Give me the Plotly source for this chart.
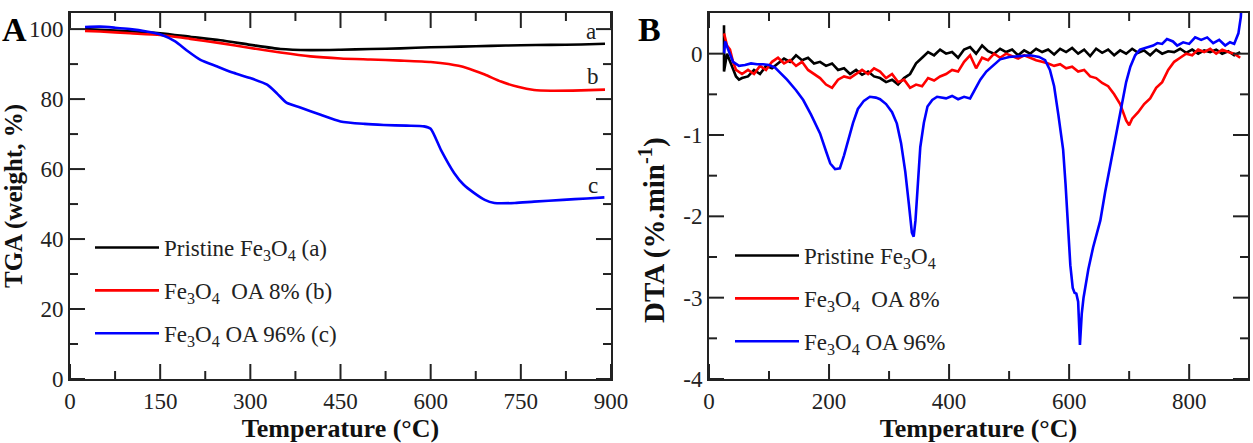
import plotly.graph_objects as go
from plotly.subplots import make_subplots

# ---------------- Panel A : TGA ----------------
tga_a_T = [25, 50, 100, 150, 200, 250, 300, 350, 400, 450, 500, 550, 600, 650, 700, 750, 800, 850, 890]
tga_a_y = [100.0, 99.8, 99.4, 98.8, 97.8, 96.8, 95.5, 94.3, 94.0, 94.1, 94.3, 94.5, 94.8, 95.0, 95.2, 95.4, 95.5, 95.6, 95.8]

tga_b_T = [25, 50, 100, 150, 200, 250, 300, 350, 400, 450, 500, 550, 600, 630, 660, 690, 717, 745, 772, 800, 850, 890]
tga_b_y = [99.5, 99.3, 98.8, 98.3, 97.2, 96.0, 94.6, 93.3, 92.2, 91.6, 91.3, 91.0, 90.6, 90.0, 88.9, 87.0, 85.0, 83.5, 82.6, 82.4, 82.5, 82.7]

tga_c_T = [25, 50, 75, 100, 125, 152, 175, 195, 217, 245, 272, 300, 328, 345, 360, 383, 417, 450, 490, 522, 560, 589,
           600, 617, 639, 655, 672, 690, 706, 740, 772, 820, 860, 889]
tga_c_y = [100.6, 100.7, 100.4, 100.0, 99.4, 98.4, 96.5, 93.8, 91.2, 89.3, 87.5, 86.0, 84.1, 81.5, 79.0, 77.6, 75.5, 73.6,
           72.9, 72.6, 72.4, 72.2, 71.5, 65.5, 58.9, 55.5, 53.2, 51.2, 50.3, 50.3, 50.7, 51.2, 51.6, 51.9]

tga_names = ["Pristine Fe<sub>3</sub>O<sub>4</sub> (a)",
             "Fe<sub>3</sub>O<sub>4</sub>&nbsp; OA 8% (b)",
             "Fe<sub>3</sub>O<sub>4</sub> OA 96% (c)"]
curve_labels = ["a", "b", "c"]
label_T = [866, 870, 870]
label_y = [99.3, 86.4, 55.4]

tga_x_range = [0, 900]
tga_y_range = [0, 104.6]
tga_x_major = [0, 150, 300, 450, 600, 750, 900]
tga_x_minor = [75, 225, 375, 525, 675, 825]
tga_y_major = [0, 20, 40, 60, 80, 100]
tga_y_minor = [10, 30, 50, 70, 90]

# ---------------- Panel B : DTA ----------------
dta_a_T = [25, 25, 30, 35, 40, 45, 50, 55, 65, 75, 85, 95, 105, 115, 125, 135, 145, 155, 165, 175, 185, 195, 205, 215,
           225, 235, 245, 255, 265, 275, 285, 295, 305, 315, 325, 335, 345, 355, 365, 375, 385, 395, 405, 415, 425,
           435, 445, 455, 465, 475, 485, 495, 505, 515, 525, 535, 545, 555, 565, 575, 585, 595, 605, 615, 625, 635,
           645, 655, 665, 675, 685, 695, 705, 715, 725, 735, 745, 755, 765, 775, 785, 795, 805, 815, 825, 835, 845,
           855, 865, 875, 885]
dta_a_y = [0.35, -0.22, 0.0, -0.1, -0.2, -0.28, -0.32, -0.3, -0.28, -0.2, -0.25, -0.15, -0.18, -0.12, -0.06, -0.1,
           -0.02, -0.08, -0.05, -0.12, -0.1, -0.15, -0.12, -0.2, -0.18, -0.25, -0.2, -0.26, -0.22, -0.28, -0.3, -0.35,
           -0.32, -0.38, -0.3, -0.25, -0.12, -0.05, 0.02, -0.02, 0.05, 0.0, 0.02, -0.05, 0.05, 0.08, 0.0, 0.1, 0.03,
           0.0, 0.06, 0.02, 0.05, -0.02, 0.04, 0.0, 0.06, 0.02, 0.05, -0.01, 0.06, 0.02, 0.07, 0.0, 0.05, -0.03, 0.06,
           0.01, 0.05, -0.02, 0.04, 0.0, 0.06, 0.01, 0.04, -0.02, 0.05, 0.0, 0.03, 0.02, 0.06, 0.01, 0.05, 0.0, 0.04,
           0.02, 0.05, 0.0, 0.03, -0.02, 0.02]

dta_b_T = [25, 30, 35, 40, 45, 50, 55, 65, 75, 85, 95, 105, 115, 125, 135, 145, 155, 165, 175, 185, 195, 205, 215, 225,
           235, 245, 255, 265, 275, 285, 295, 305, 315, 325, 335, 345, 355, 365, 375, 385, 395, 405, 415, 425, 435,
           445, 455, 465, 475, 485, 495, 505, 515, 525, 535, 545, 555, 565, 575, 585, 595, 605, 615, 625, 635, 645,
           655, 665, 675, 685, 695, 700, 705, 715, 725, 735, 745, 755, 765, 775, 785, 795, 805, 815, 825, 835, 845,
           855, 865, 875, 885]
dta_b_y = [0.25, 0.1, 0.05, -0.1, -0.2, -0.22, -0.25, -0.2, -0.25, -0.15, -0.2, -0.1, -0.05, -0.12, -0.08, -0.15,
           -0.1, -0.2, -0.25, -0.3, -0.38, -0.42, -0.32, -0.28, -0.3, -0.25, -0.2, -0.25, -0.18, -0.22, -0.3, -0.25,
           -0.35, -0.32, -0.42, -0.38, -0.4, -0.3, -0.33, -0.28, -0.25, -0.2, -0.22, -0.1, -0.02, -0.18, -0.05, -0.08,
           0.0, -0.05, 0.0, -0.03, -0.06, -0.02, -0.05, -0.08, -0.1, -0.12, -0.15, -0.13, -0.18, -0.16, -0.22, -0.2,
           -0.28, -0.3, -0.36, -0.4, -0.5, -0.62, -0.82, -0.88, -0.8, -0.72, -0.62, -0.55, -0.42, -0.35, -0.2, -0.1,
           -0.05, 0.0, -0.02, 0.05, 0.02, 0.06, 0.0, 0.05, 0.02, 0.0, -0.05]

dta_c_T = [25, 27, 32, 40, 50, 60, 70, 80, 90, 100, 110, 120, 130, 145, 157, 170, 185, 195, 202, 210, 218, 225, 232,
           240, 248, 258, 268, 278, 285, 295, 305, 313, 320, 327, 333, 338, 341, 344, 348, 352, 358, 364, 372, 380,
           395, 405, 415, 425, 435, 443, 452, 462, 472, 485, 500, 515, 535, 550, 560, 568, 575, 582, 590, 594, 598,
           602, 606, 609, 612, 615, 618, 621, 624, 632, 640, 652, 660, 668, 677, 685, 695, 702, 710, 718, 730, 740,
           747, 755, 763, 773, 780, 790, 800, 810, 820, 830, 840, 850, 860, 868, 875, 882, 886, 888]
dta_c_y = [0.0, 0.15, 0.05, -0.1, -0.15, -0.14, -0.12, -0.13, -0.13, -0.14, -0.17, -0.24, -0.32, -0.45, -0.57, -0.75,
           -0.98, -1.2, -1.35, -1.42, -1.41, -1.25, -1.05, -0.85, -0.68, -0.58, -0.53, -0.54, -0.56, -0.62, -0.72,
           -0.86, -1.1, -1.45, -1.85, -2.2, -2.25, -2.05, -1.6, -1.15, -0.85, -0.65, -0.57, -0.53, -0.55, -0.52,
           -0.56, -0.53, -0.55, -0.45, -0.32, -0.22, -0.15, -0.07, -0.04, -0.03, -0.02, -0.04, -0.08, -0.2, -0.4,
           -0.75, -1.18, -1.6, -2.15, -2.6, -2.88, -2.94, -2.95, -3.05, -3.58, -3.2, -3.0, -2.65, -2.38, -2.05, -1.7,
           -1.39, -1.0, -0.69, -0.35, -0.16, -0.02, 0.05, 0.08, 0.1, 0.13, 0.12, 0.18, 0.15, 0.1, 0.14, 0.12, 0.2,
           0.17, 0.2, 0.13, 0.17, 0.1, 0.14, 0.12, 0.25, 0.45, 0.7]

dta_names = ["Pristine Fe<sub>3</sub>O<sub>4</sub>",
             "Fe<sub>3</sub>O<sub>4</sub>&nbsp; OA 8%",
             "Fe<sub>3</sub>O<sub>4</sub> OA 96%"]

dta_x_range = [0, 898]
dta_y_range = [-4, 0.5]
dta_x_major = [0, 200, 400, 600, 800]
dta_x_minor = [100, 300, 500, 700]
dta_y_major = [-4, -3, -2, -1, 0]
dta_y_labels = ["-4", "-3", "-2", "-1", "0"]
dta_y_minor = [-3.5, -2.5, -1.5, -0.5]

colors = ["#000000", "#ff0000", "#0000ff"]

FONT = "Liberation Serif"
AXC = "#222222"
W, H = 1253, 443
dom_A = [70 / W, 611 / W]
dom_B = [709 / W, 1248 / W]
dom_y = [1 - 379 / H, 1 - 13 / H]

fig = make_subplots(rows=1, cols=2, horizontal_spacing=0.05)

tga_T = [tga_a_T, tga_b_T, tga_c_T]
tga_y = [tga_a_y, tga_b_y, tga_c_y]
for i in range(3):
    fig.add_trace(go.Scatter(x=tga_T[i], y=tga_y[i], mode="lines", name=tga_names[i],
                             line=dict(color=colors[i], width=2.6, shape="spline", smoothing=0.6),
                             legend="legend", legendgroup="A%d" % i), row=1, col=1)

dta_T = [dta_a_T, dta_b_T, dta_c_T]
dta_y = [dta_a_y, dta_b_y, dta_c_y]
for i in range(3):
    fig.add_trace(go.Scatter(x=dta_T[i], y=dta_y[i], mode="lines", name=dta_names[i],
                             line=dict(color=colors[i], width=2.6),
                             legend="legend2", legendgroup="B%d" % i), row=1, col=2)


# inward tick marks on all four sides, built from the tick value lists
def tick_trace(xr, yr, xdom, ydom, xmaj, xmin, ymaj, ymin, row, col):
    px_per_x = (xdom[1] - xdom[0]) * W / (xr[1] - xr[0])
    px_per_y = (ydom[1] - ydom[0]) * H / (yr[1] - yr[0])
    xs, ys = [], []
    for vals, L in ((xmaj, 15), (xmin, 8)):
        d = L / px_per_y
        for v in vals:
            xs += [v, v, None, v, v, None]
            ys += [yr[0], yr[0] + d, None, yr[1], yr[1] - d, None]
    for vals, L in ((ymaj, 15), (ymin, 8)):
        d = L / px_per_x
        for v in vals:
            xs += [xr[0], xr[0] + d, None, xr[1], xr[1] - d, None]
            ys += [v, v, None, v, v, None]
    fig.add_trace(go.Scatter(x=xs, y=ys, mode="lines", line=dict(color=AXC, width=2),
                             showlegend=False, hoverinfo="skip", connectgaps=False, cliponaxis=False),
                  row=row, col=col)


tick_trace(tga_x_range, tga_y_range, dom_A, dom_y, tga_x_major, tga_x_minor, tga_y_major, tga_y_minor, 1, 1)
tick_trace(dta_x_range, dta_y_range, dom_B, dom_y, dta_x_major, dta_x_minor, dta_y_major, dta_y_minor, 1, 2)


def style_axis(update, row, col, rng, vals, dom, title, texts=None, tsize=26):
    kw = dict(showline=True, linecolor=AXC, linewidth=2, mirror=True, ticks="",
              showgrid=False, zeroline=False,
              automargin=False, range=rng, tickmode="array", tickvals=vals, domain=dom,
              tickfont=dict(family=FONT, size=23, color="#222"),
              title=dict(text=title, standoff=2, font=dict(family=FONT, size=tsize, color="#111")))
    if texts is not None:
        kw["ticktext"] = texts
    update(row=row, col=col, **kw)


style_axis(fig.update_xaxes, 1, 1, tga_x_range, tga_x_major, dom_A, "<b>Temperature (°C)</b>")
style_axis(fig.update_yaxes, 1, 1, tga_y_range, tga_y_major, dom_y, "<b>TGA (weight, %)</b>", tsize=25)
style_axis(fig.update_xaxes, 1, 2, dta_x_range, dta_x_major, dom_B, "<b>Temperature (°C)</b>")
style_axis(fig.update_yaxes, 1, 2, dta_y_range, dta_y_major, dom_y, "", texts=dta_y_labels)

# DTA y-axis title (placed like the reference, lower than the axis centre)
fig.add_annotation(x=652 / W, y=1 - 230 / H, xref="paper", yref="paper",
                   text="<b>DTA (%.min<sup>-1</sup>)</b>", textangle=-90, showarrow=False,
                   xanchor="center", yanchor="middle", font=dict(family=FONT, size=29, color="#111"))

for i in range(3):
    fig.add_annotation(x=label_T[i], y=label_y[i], xref="x", yref="y", text=curve_labels[i],
                       showarrow=False, font=dict(family=FONT, size=23, color="#222"))

fig.add_annotation(x=0.0, y=1 - 30 / H, xref="paper", yref="paper", text="<b>A</b>", showarrow=False,
                   xanchor="left", yanchor="middle", font=dict(family=FONT, size=34, color="#000"))
fig.add_annotation(x=636 / W, y=1 - 30 / H, xref="paper", yref="paper", text="<b>B</b>", showarrow=False,
                   xanchor="left", yanchor="middle", font=dict(family=FONT, size=34, color="#000"))

legend_common = dict(font=dict(family=FONT, size=23, color="#222"), bgcolor="rgba(0,0,0,0)",
                     traceorder="grouped", tracegroupgap=10, itemwidth=64, xanchor="left", yanchor="top",
                     borderwidth=0)
fig.update_layout(
    width=W, height=H,
    margin=dict(l=0, r=0, t=0, b=0, autoexpand=False),
    paper_bgcolor="white", plot_bgcolor="white",
    legend=dict(x=90 / W, y=1 - 226 / H, **legend_common),
    legend2=dict(x=730 / W, y=1 - 234 / H, **legend_common),
    font=dict(family=FONT),
)

fig.write_html("out.html", config={"displayModeBar": False},
               post_script="document.body.style.margin='0px';document.body.style.overflow='hidden';")
